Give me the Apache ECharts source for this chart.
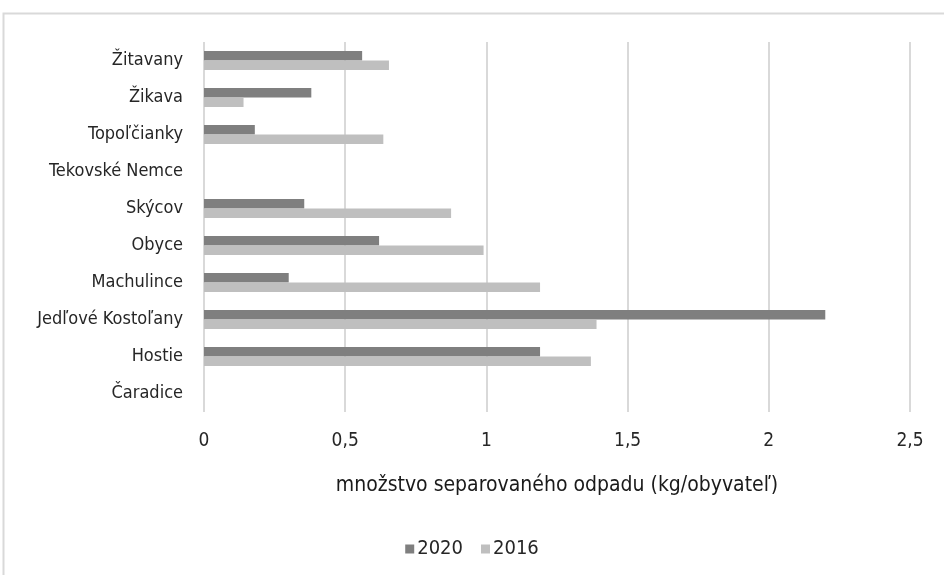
<!DOCTYPE html>
<html><head><meta charset="utf-8">
<script src="https://cdn.jsdelivr.net/npm/echarts@6/dist/echarts.min.js"></script>
<style>html,body{margin:0;padding:0;background:#fff}#c{width:944px;height:575px}</style>
</head><body><div id="c"></div>
<script>
const categories = ['Čaradice','Hostie','Jedľové Kostoľany','Machulince','Obyce','Skýcov','Tekovské Nemce','Topoľčianky','Žikava','Žitavany'];
const values2020 = [null,1.19,2.20,0.30,0.62,0.355,null,0.18,0.38,0.56];
const values2016 = [null,1.37,1.39,1.19,0.99,0.875,null,0.635,0.14,0.655];
const seriesNames = ['2020','2016'];
const xTicks = {min:0,max:2.5,interval:0.5};
const axisTitle = 'množstvo separovaného odpadu (kg/obyvateľ)';

const FONT = "'Liberation Sans Narrow','Arial Narrow','DejaVu Sans Condensed',sans-serif";
const chart = echarts.init(document.getElementById('c'), null, {renderer:'canvas'});
chart.setOption({
  animation:false,
  textStyle:{fontFamily:FONT},
  graphic:[{type:'rect',shape:{x:3.5,y:13.5,width:1200,height:800},style:{fill:null,stroke:'#d9d9d9',lineWidth:2},silent:true}],
  grid:{left:204,right:34,top:42,bottom:163,containLabel:false},
  legend:{top:534,left:'center',itemWidth:9,itemHeight:9,itemGap:18,icon:'rect',
    textStyle:{fontFamily:FONT,fontSize:20,color:'#262626',padding:[0,0,0,-2]},data:seriesNames},
  xAxis:{type:'value',min:xTicks.min,max:xTicks.max,interval:xTicks.interval,
    axisLine:{show:false},axisTick:{show:false},
    splitLine:{lineStyle:{color:'#d9d9d9',width:2}},
    axisLabel:{margin:20,fontSize:19,color:'#262626',fontFamily:FONT,formatter:v=>String(v).replace('.',',')},
    name:axisTitle,nameLocation:'middle',nameGap:63,
    nameTextStyle:{fontSize:21,color:'#1a1a1a',fontFamily:FONT}},
  yAxis:{type:'category',data:categories,
    axisLine:{show:false},axisTick:{show:false},
    axisLabel:{margin:21,fontSize:18,color:'#262626',fontFamily:FONT}},
  series:[
    {name:seriesNames[0],type:'bar',data:values2020,barWidth:9.5,barGap:'0%',itemStyle:{color:'#7f7f7f'}},
    {name:seriesNames[1],type:'bar',data:values2016,barWidth:9.5,barGap:'0%',itemStyle:{color:'#bfbfbf'}}
  ]
});
</script></body></html>
